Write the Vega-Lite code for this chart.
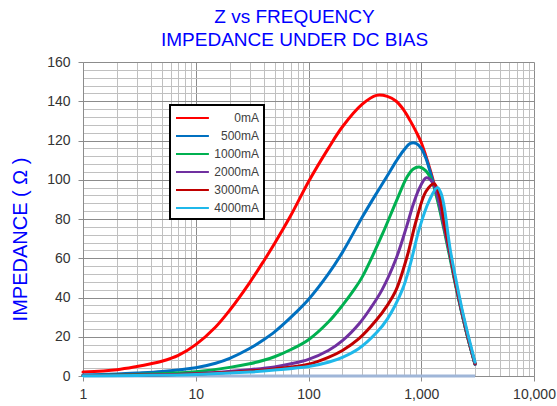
{
  "$schema": "https://vega.github.io/schema/vega-lite/v6.json",
  "width": 451,
  "height": 314,
  "autosize": "none",
  "padding": {"left": 83, "top": 62, "right": 23, "bottom": 30},
  "background": "white",
  "config": {"view": {"stroke": null}, "font": "Liberation Sans", "legend": {"strokeWidth": 2}},
  "title": {
    "text": ["Z vs FREQUENCY", "IMPEDANCE UNDER DC BIAS"],
    "fontSize": 19,
    "fontWeight": "normal",
    "color": "#0000ff",
    "lineHeight": 23,
    "anchor": "middle",
    "dx": -14,
    "offset": 5
  },
  "datasets": {
    "base": [{"f": 1, "z": 0}, {"f": 3000, "z": 0}],
    "curves": [
      {"s": "0mA", "f": 1, "z": 2.0}, {"s": "0mA", "f": 2, "z": 3.2}, {"s": "0mA", "f": 3, "z": 4.8}, {"s": "0mA", "f": 4, "z": 6.2}, {"s": "0mA", "f": 5, "z": 7.5}, {"s": "0mA", "f": 7, "z": 10.5}, {"s": "0mA", "f": 10, "z": 16}, {"s": "0mA", "f": 15, "z": 25}, {"s": "0mA", "f": 20, "z": 33.5}, {"s": "0mA", "f": 30, "z": 47.5}, {"s": "0mA", "f": 40, "z": 58.5}, {"s": "0mA", "f": 50, "z": 67.5}, {"s": "0mA", "f": 70, "z": 82}, {"s": "0mA", "f": 100, "z": 99}, {"s": "0mA", "f": 150, "z": 116}, {"s": "0mA", "f": 200, "z": 127}, {"s": "0mA", "f": 300, "z": 138.5}, {"s": "0mA", "f": 400, "z": 143}, {"s": "0mA", "f": 500, "z": 142.5}, {"s": "0mA", "f": 600, "z": 140}, {"s": "0mA", "f": 700, "z": 135.5}, {"s": "0mA", "f": 800, "z": 130}, {"s": "0mA", "f": 900, "z": 124.5}, {"s": "0mA", "f": 1000, "z": 119}, {"s": "0mA", "f": 1100, "z": 112}, {"s": "0mA", "f": 1200, "z": 105}, {"s": "0mA", "f": 1300, "z": 98}, {"s": "0mA", "f": 1400, "z": 91}, {"s": "0mA", "f": 1600, "z": 76}, {"s": "0mA", "f": 1800, "z": 62}, {"s": "0mA", "f": 2000, "z": 48}, {"s": "0mA", "f": 2300, "z": 32}, {"s": "0mA", "f": 2600, "z": 19}, {"s": "0mA", "f": 3000, "z": 6},
      {"s": "500mA", "f": 1, "z": 0.5}, {"s": "500mA", "f": 2, "z": 1}, {"s": "500mA", "f": 3, "z": 1.5}, {"s": "500mA", "f": 5, "z": 2.3}, {"s": "500mA", "f": 10, "z": 4.2}, {"s": "500mA", "f": 15, "z": 6.5}, {"s": "500mA", "f": 20, "z": 9}, {"s": "500mA", "f": 30, "z": 14}, {"s": "500mA", "f": 40, "z": 18.5}, {"s": "500mA", "f": 50, "z": 22.5}, {"s": "500mA", "f": 70, "z": 30}, {"s": "500mA", "f": 100, "z": 39}, {"s": "500mA", "f": 150, "z": 52}, {"s": "500mA", "f": 200, "z": 63}, {"s": "500mA", "f": 300, "z": 81}, {"s": "500mA", "f": 400, "z": 93}, {"s": "500mA", "f": 500, "z": 102}, {"s": "500mA", "f": 600, "z": 109.5}, {"s": "500mA", "f": 700, "z": 115}, {"s": "500mA", "f": 800, "z": 118.5}, {"s": "500mA", "f": 900, "z": 118.5}, {"s": "500mA", "f": 1000, "z": 116}, {"s": "500mA", "f": 1100, "z": 111}, {"s": "500mA", "f": 1200, "z": 104}, {"s": "500mA", "f": 1300, "z": 97}, {"s": "500mA", "f": 1400, "z": 90}, {"s": "500mA", "f": 1600, "z": 75.5}, {"s": "500mA", "f": 1800, "z": 61.5}, {"s": "500mA", "f": 2000, "z": 48}, {"s": "500mA", "f": 2300, "z": 32}, {"s": "500mA", "f": 2600, "z": 19}, {"s": "500mA", "f": 3000, "z": 6},
      {"s": "1000mA", "f": 1, "z": 0.3}, {"s": "1000mA", "f": 3, "z": 0.8}, {"s": "1000mA", "f": 10, "z": 2.2}, {"s": "1000mA", "f": 20, "z": 4.4}, {"s": "1000mA", "f": 30, "z": 6.2}, {"s": "1000mA", "f": 40, "z": 8}, {"s": "1000mA", "f": 50, "z": 9.8}, {"s": "1000mA", "f": 70, "z": 13.5}, {"s": "1000mA", "f": 100, "z": 18.5}, {"s": "1000mA", "f": 150, "z": 27.5}, {"s": "1000mA", "f": 200, "z": 36}, {"s": "1000mA", "f": 250, "z": 43.5}, {"s": "1000mA", "f": 300, "z": 50.5}, {"s": "1000mA", "f": 450, "z": 72}, {"s": "1000mA", "f": 600, "z": 89}, {"s": "1000mA", "f": 750, "z": 101.5}, {"s": "1000mA", "f": 850, "z": 105.5}, {"s": "1000mA", "f": 960, "z": 106.5}, {"s": "1000mA", "f": 1100, "z": 104.5}, {"s": "1000mA", "f": 1250, "z": 99}, {"s": "1000mA", "f": 1400, "z": 89}, {"s": "1000mA", "f": 1600, "z": 74}, {"s": "1000mA", "f": 1800, "z": 60}, {"s": "1000mA", "f": 2000, "z": 47}, {"s": "1000mA", "f": 2300, "z": 31.5}, {"s": "1000mA", "f": 2600, "z": 19}, {"s": "1000mA", "f": 3000, "z": 6},
      {"s": "2000mA", "f": 1, "z": 0.2}, {"s": "2000mA", "f": 10, "z": 1.2}, {"s": "2000mA", "f": 30, "z": 3.2}, {"s": "2000mA", "f": 50, "z": 4.6}, {"s": "2000mA", "f": 70, "z": 6.2}, {"s": "2000mA", "f": 100, "z": 8.5}, {"s": "2000mA", "f": 150, "z": 13}, {"s": "2000mA", "f": 200, "z": 18}, {"s": "2000mA", "f": 280, "z": 26.5}, {"s": "2000mA", "f": 350, "z": 34}, {"s": "2000mA", "f": 450, "z": 44}, {"s": "2000mA", "f": 600, "z": 60}, {"s": "2000mA", "f": 740, "z": 76}, {"s": "2000mA", "f": 850, "z": 87.5}, {"s": "2000mA", "f": 960, "z": 95.5}, {"s": "2000mA", "f": 1110, "z": 101}, {"s": "2000mA", "f": 1250, "z": 99}, {"s": "2000mA", "f": 1400, "z": 91}, {"s": "2000mA", "f": 1600, "z": 75.5}, {"s": "2000mA", "f": 1800, "z": 61.5}, {"s": "2000mA", "f": 2000, "z": 48}, {"s": "2000mA", "f": 2300, "z": 32}, {"s": "2000mA", "f": 2600, "z": 19.5}, {"s": "2000mA", "f": 3000, "z": 6},
      {"s": "3000mA", "f": 1, "z": 0.2}, {"s": "3000mA", "f": 10, "z": 1}, {"s": "3000mA", "f": 30, "z": 2.5}, {"s": "3000mA", "f": 50, "z": 3.6}, {"s": "3000mA", "f": 100, "z": 6}, {"s": "3000mA", "f": 150, "z": 9.5}, {"s": "3000mA", "f": 200, "z": 13}, {"s": "3000mA", "f": 280, "z": 19}, {"s": "3000mA", "f": 400, "z": 28.5}, {"s": "3000mA", "f": 500, "z": 36}, {"s": "3000mA", "f": 600, "z": 44}, {"s": "3000mA", "f": 750, "z": 61}, {"s": "3000mA", "f": 900, "z": 79}, {"s": "3000mA", "f": 1100, "z": 94}, {"s": "3000mA", "f": 1300, "z": 98}, {"s": "3000mA", "f": 1450, "z": 92}, {"s": "3000mA", "f": 1600, "z": 78}, {"s": "3000mA", "f": 1800, "z": 63}, {"s": "3000mA", "f": 2000, "z": 49}, {"s": "3000mA", "f": 2300, "z": 33}, {"s": "3000mA", "f": 2600, "z": 20}, {"s": "3000mA", "f": 3000, "z": 6.5},
      {"s": "4000mA", "f": 1, "z": 0.1}, {"s": "4000mA", "f": 10, "z": 0.8}, {"s": "4000mA", "f": 30, "z": 2}, {"s": "4000mA", "f": 50, "z": 3}, {"s": "4000mA", "f": 100, "z": 4.8}, {"s": "4000mA", "f": 150, "z": 7}, {"s": "4000mA", "f": 200, "z": 9.5}, {"s": "4000mA", "f": 280, "z": 14}, {"s": "4000mA", "f": 400, "z": 22}, {"s": "4000mA", "f": 500, "z": 29}, {"s": "4000mA", "f": 680, "z": 44}, {"s": "4000mA", "f": 800, "z": 57}, {"s": "4000mA", "f": 960, "z": 75}, {"s": "4000mA", "f": 1180, "z": 89.5}, {"s": "4000mA", "f": 1390, "z": 96}, {"s": "4000mA", "f": 1500, "z": 93}, {"s": "4000mA", "f": 1600, "z": 86}, {"s": "4000mA", "f": 1800, "z": 65}, {"s": "4000mA", "f": 2000, "z": 51}, {"s": "4000mA", "f": 2300, "z": 34}, {"s": "4000mA", "f": 2600, "z": 21}, {"s": "4000mA", "f": 3000, "z": 7}
    ]
  },
  "layer": [
    {
      "data": {"name": "base"},
      "mark": {"type": "line", "color": "#9fb6d8", "strokeWidth": 3},
      "encoding": {
        "x": {"field": "f", "type": "quantitative", "scale": {"type": "log", "domain": [1, 10000]}},
        "y": {"field": "z", "type": "quantitative", "scale": {"domain": [0, 160], "nice": false}}
      }
    },
    {
      "data": {"name": "curves"},
      "mark": {"type": "line", "strokeWidth": 3, "interpolate": "catmull-rom", "strokeCap": "round"},
      "encoding": {
        "x": {
          "field": "f", "type": "quantitative",
          "scale": {"type": "log", "domain": [1, 10000]},
          "axis": {
            "title": null,
            "tickCount": 100,
            "values": [1,2,3,4,5,6,7,8,9,10,20,30,40,50,60,70,80,90,100,200,300,400,500,600,700,800,900,1000,2000,3000,4000,5000,6000,7000,8000,9000,10000],
            "labelExpr": "indexof([1,10,100,1000,10000], datum.value) >= 0 ? format(datum.value, ',') : ''",
            "labelOverlap": false,
            "labelFontSize": 14,
            "labelColor": "#333333",
            "labelPadding": 6,
            "labelFlush": false,
            "grid": true,
            "gridColor": {"condition": {"test": "indexof([1,10,100,1000,10000], datum.value) >= 0", "value": "#8c8c8c"}, "value": "#c0c0c0"},
            "tickOpacity": {"condition": {"test": "indexof([1,10,100,1000,10000], datum.value) >= 0", "value": 1}, "value": 0},
            "tickColor": "#8c8c8c",
            "tickSize": 5,
            "domainColor": "#8c8c8c"
          }
        },
        "y": {
          "field": "z", "type": "quantitative",
          "scale": {"domain": [0, 160], "nice": false},
          "axis": {
            "title": "IMPEDANCE ( Ω )",
            "titleColor": "#0000ff",
            "titleFontSize": 20,
            "titleFontWeight": "normal",
            "titleX": -53,
            "titleY": 177,
            "titleAngle": -90,
            "titleAlign": "center",
            "tickCount": 100,
            "values": [0,4,8,12,16,20,24,28,32,36,40,44,48,52,56,60,64,68,72,76,80,84,88,92,96,100,104,108,112,116,120,124,128,132,136,140,144,148,152,156,160],
            "labelExpr": "datum.value % 20 === 0 ? datum.label : ''",
            "labelOverlap": false,
            "labelFontSize": 14,
            "labelColor": "#333333",
            "labelPadding": 8,
            "labelFlush": false,
            "grid": true,
            "gridColor": {"condition": {"test": "datum.value % 20 === 0", "value": "#8c8c8c"}, "value": "#c0c0c0"},
            "tickOpacity": {"condition": {"test": "datum.value % 20 === 0", "value": 1}, "value": 0},
            "tickColor": "#8c8c8c",
            "tickSize": 5,
            "domainColor": "#8c8c8c"
          }
        },
        "color": {
          "field": "s", "type": "nominal",
          "scale": {
            "domain": ["0mA", "500mA", "1000mA", "2000mA", "3000mA", "4000mA"],
            "range": ["#ff0000", "#0070c0", "#00b050", "#7030a0", "#c00000", "#1fb8ea"]
          },
          "legend": {
            "title": null,
            "orient": "none",
            "legendX": 87,
            "legendY": 43,
            "fillColor": "white",
            "strokeColor": "black",
            "padding": 5,
            "symbolType": "M-1,0H3.7",
            "symbolSize": 196,
            "symbolStrokeWidth": 2,
            "labelAlign": "right",
            "labelOffset": 68,
            "labelFontSize": 12,
            "labelColor": "#404040",
            "rowPadding": 4
          }
        }
      }
    }
  ]
}
